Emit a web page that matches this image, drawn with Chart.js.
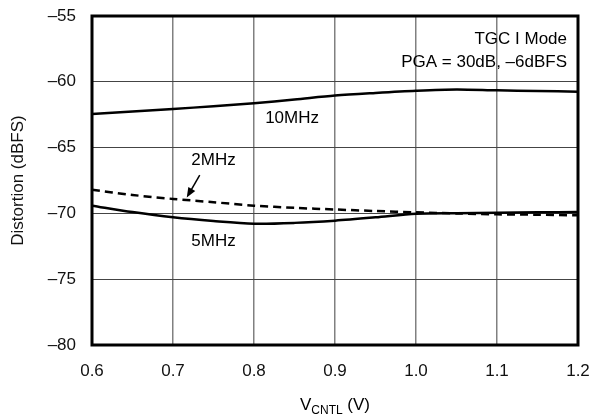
<!DOCTYPE html>
<html>
<head>
<meta charset="utf-8">
<script src="https://cdn.jsdelivr.net/npm/chart.js@4.4.0/dist/chart.umd.min.js"></script>
<style>
  html, body { margin: 0; padding: 0; background: #fff; }
  #wrap { width: 590px; height: 416px; position: relative; }
</style>
</head>
<body>
<div id="wrap"><canvas id="chart"></canvas></div>
<script>
// datos
const vcntl = [0.6, 0.65, 0.7, 0.75, 0.8, 0.85, 0.9, 0.95, 1.0, 1.05, 1.1, 1.15, 1.2];
const dist10MHz = [-62.45, -62.25, -62.07, -61.85, -61.63, -61.35, -61.05, -60.85, -60.68, -60.58, -60.65, -60.7, -60.75];
const dist2MHz = [-68.2, -68.6, -68.9, -69.15, -69.41, -69.58, -69.7, -69.82, -69.92, -70.0, -70.07, -70.1, -70.15];
const dist5MHz = [-69.41, -69.9, -70.3, -70.58, -70.78, -70.72, -70.55, -70.3, -70.02, -69.98, -69.95, -69.92, -69.9];
const xTicks = [0.6, 0.7, 0.8, 0.9, 1.0, 1.1, 1.2];
const yTicks = [-80, -75, -70, -65, -60, -55];

const FONT = '"Liberation Sans", Arial, Helvetica, sans-serif';

// etiquetas de las curvas (en coordenadas de datos)
const curveLabels = [
  { text: "10MHz", x: 0.847, y: -62.75 },
  { text: "2MHz", x: 0.75, y: -65.94 },
  { text: "5MHz", x: 0.75, y: -72.1 }
];
const arrow2MHz = { from: [0.733, -67.1], to: [0.717, -68.8] };
const infoLines = ["TGC I Mode", "PGA = 30dB, \u20136dBFS"];

const toPts = vals => vals.map((v, i) => ({ x: vcntl[i], y: v }));

// plugin para marco, textos, flecha y titulo del eje X
const notes = {
  id: "notes",
  afterDraw(chart) {
    const { ctx, chartArea: a, scales: { x, y } } = chart;
    ctx.save();
    ctx.strokeStyle = "#000";
    ctx.lineWidth = 3;
    ctx.strokeRect(a.left, a.top, a.right - a.left, a.bottom - a.top);

    ctx.fillStyle = "#000";
    ctx.font = "17px " + FONT;
    ctx.textAlign = "center";
    ctx.textBaseline = "middle";
    curveLabels.forEach(l => {
      ctx.fillText(l.text, x.getPixelForValue(l.x), y.getPixelForValue(l.y));
    });

    // texto de condiciones
    ctx.textAlign = "right";
    ctx.fillText(infoLines[0], a.right - 11, a.top + 23);
    ctx.fillText(infoLines[1], a.right - 11, a.top + 46);

    // flecha 2MHz
    const x0 = x.getPixelForValue(arrow2MHz.from[0]), y0 = y.getPixelForValue(arrow2MHz.from[1]);
    const x1 = x.getPixelForValue(arrow2MHz.to[0]), y1 = y.getPixelForValue(arrow2MHz.to[1]);
    const ang = Math.atan2(y1 - y0, x1 - x0);
    ctx.lineWidth = 1.5;
    ctx.beginPath();
    ctx.moveTo(x0, y0);
    ctx.lineTo(x1 - 8 * Math.cos(ang), y1 - 8 * Math.sin(ang));
    ctx.stroke();
    ctx.beginPath();
    ctx.moveTo(x1, y1);
    ctx.lineTo(x1 - 10 * Math.cos(ang) + 4 * Math.sin(ang), y1 - 10 * Math.sin(ang) - 4 * Math.cos(ang));
    ctx.lineTo(x1 - 10 * Math.cos(ang) - 4 * Math.sin(ang), y1 - 10 * Math.sin(ang) + 4 * Math.cos(ang));
    ctx.closePath();
    ctx.fill();

    // titulo eje X con subindice
    const cx = (a.left + a.right) / 2;
    const by = 410;
    const big = "17px " + FONT, small = "12px " + FONT;
    ctx.textAlign = "left";
    ctx.textBaseline = "alphabetic";
    ctx.font = big;
    const wV = ctx.measureText("V").width;
    const wRest = ctx.measureText(" (V)").width;
    ctx.font = small;
    const wSub = ctx.measureText("CNTL").width;
    let px = cx - (wV + wSub + wRest) / 2;
    ctx.font = big;
    ctx.fillText("V", px, by);
    px += wV;
    ctx.font = small;
    ctx.fillText("CNTL", px, by + 4);
    px += wSub;
    ctx.font = big;
    ctx.fillText(" (V)", px, by);
    ctx.restore();
  }
};

new Chart(document.getElementById("chart"), {
  type: "line",
  data: {
    datasets: [
      { label: "10MHz", data: toPts(dist10MHz), borderColor: "#000", borderWidth: 2.5, pointRadius: 0, tension: 0.3, fill: false },
      { label: "2MHz", data: toPts(dist2MHz), borderColor: "#000", borderWidth: 2.5, borderDash: [8, 5], pointRadius: 0, tension: 0.3, fill: false },
      { label: "5MHz", data: toPts(dist5MHz), borderColor: "#000", borderWidth: 2.5, pointRadius: 0, tension: 0.3, fill: false }
    ]
  },
  options: {
    responsive: true,
    maintainAspectRatio: false,
    animation: false,
    layout: { padding: { left: 0, top: 16, right: 12, bottom: 0 } },
    plugins: { legend: { display: false }, tooltip: { enabled: false } },
    scales: {
      x: {
        type: "linear",
        min: 0.6,
        max: 1.2,
        afterBuildTicks: s => { s.ticks = xTicks.map(v => ({ value: v })); },
        afterFit: s => { s.height = 71; s.paddingLeft = 0; s.paddingRight = 0; },
        ticks: {
          color: "#111",
          font: { family: FONT, size: 17 },
          padding: 16,
          maxRotation: 0,
          callback: v => v.toFixed(1)
        },
        grid: { color: "#808080", lineWidth: 1.5, drawTicks: false },
        border: { display: false }
      },
      y: {
        min: -80,
        max: -55,
        afterBuildTicks: s => { s.ticks = yTicks.map(v => ({ value: v })); },
        afterFit: s => { s.width = 92; s.paddingTop = 0; s.paddingBottom = 0; },
        ticks: {
          color: "#111",
          font: { family: FONT, size: 17 },
          padding: 16,
          callback: v => String(v).replace("-", "\u2013")
        },
        grid: { color: "#444", lineWidth: 1, drawTicks: false },
        border: { display: false },
        title: {
          display: true,
          text: "Distortion (dBFS)",
          color: "#111",
          font: { family: FONT, size: 17 },
          padding: { top: 8, bottom: 0 }
        }
      }
    }
  },
  plugins: [notes]
});
</script>
</body>
</html>
